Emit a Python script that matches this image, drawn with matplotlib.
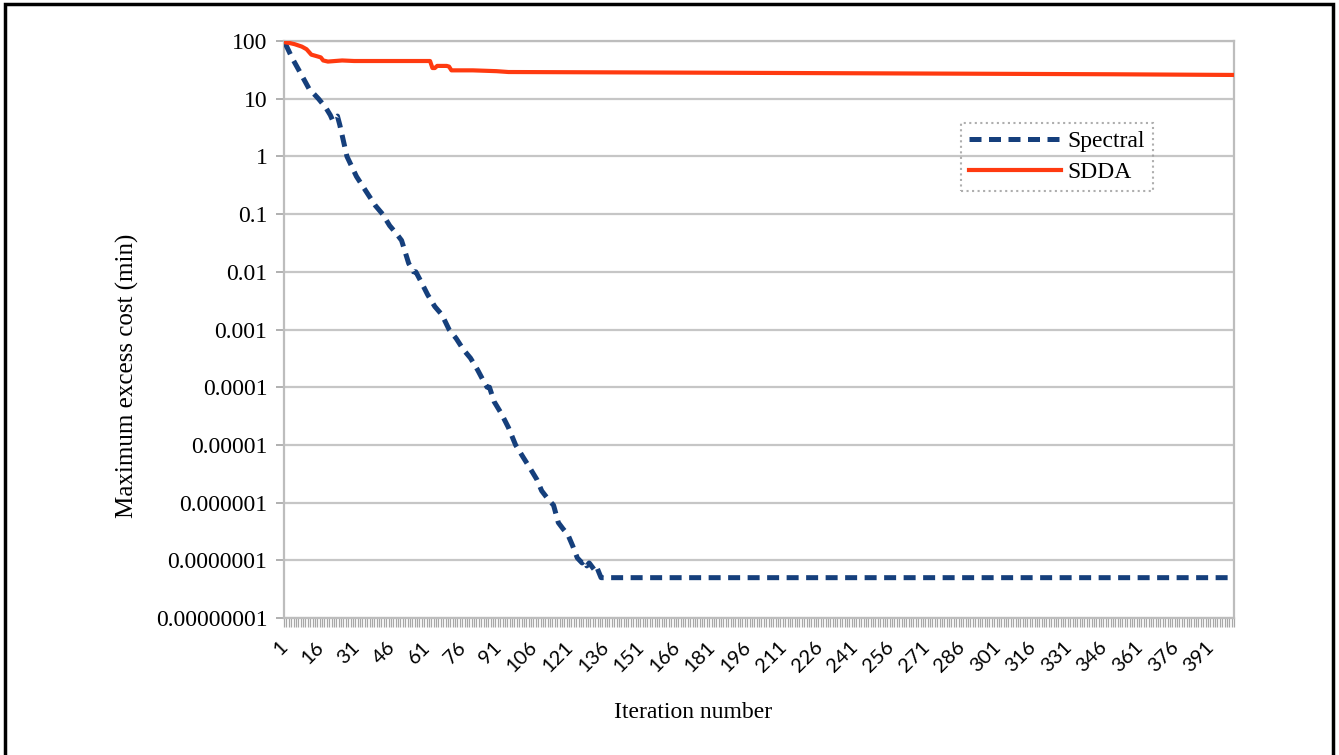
import matplotlib
matplotlib.use("Agg")
import matplotlib.pyplot as plt
from matplotlib.patches import Rectangle
from matplotlib.ticker import FixedLocator, NullFormatter

# ---- data ----
n_iter = 400
spectral_iter = [1, 4, 7, 11, 15, 18, 20, 21, 22, 23, 24, 27, 31, 35, 39, 42, 45, 48, 50, 53,
                 55, 56, 58, 61, 64, 67, 70, 73, 76, 79, 82, 84, 86, 87, 89, 92, 95, 98, 101,
                 104, 107, 109, 111, 113, 114, 116, 118, 120, 122, 124, 126, 127, 128, 129,
                 131, 132, 133, 134, 400]
spectral_val = [91, 50, 30, 15, 10, 7.1, 5.2, 4.2, 4.6, 5.0, 3.5, 1.0, 0.45, 0.25, 0.14, 0.1,
                0.063, 0.045, 0.035, 0.014, 0.01, 0.01, 0.007, 0.004, 0.0025, 0.0018, 0.001,
                7e-4, 4.5e-4, 3.2e-4, 2e-4, 1.4e-4, 1e-4, 1e-4, 5.6e-5, 3.5e-5, 2e-5, 1e-5,
                6.3e-6, 4e-6, 2.5e-6, 1.6e-6, 1.25e-6, 1e-6, 9e-7, 4.5e-7, 3.5e-7, 2.8e-7,
                1.8e-7, 1.1e-7, 9e-8, 1e-7, 8e-8, 9e-8, 7e-8, 8e-8, 6.3e-8, 5e-8, 5e-8]

sdda_iter = [1, 3, 5, 8, 10, 12, 14, 16, 17, 19, 22, 25, 30, 40, 50, 62, 63, 64, 65, 69, 70,
             71, 80, 90, 95, 150, 200, 250, 300, 350, 400]
sdda_val = [95, 92, 88, 80, 72, 58, 55, 52, 46, 44, 45, 46, 45, 45, 45, 45, 34, 34, 37, 37, 36,
            31, 31, 30, 29, 28.5, 28, 27.5, 27, 26.5, 25.8]

ytick_vals = [1e2, 1e1, 1e0, 1e-1, 1e-2, 1e-3, 1e-4, 1e-5, 1e-6, 1e-7, 1e-8]
ytick_labels = ["100", "10", "1", "0.1", "0.01", "0.001", "0.0001", "0.00001",
                "0.000001", "0.0000001", "0.00000001"]
xtick_vals = list(range(1, 392, 15))
xtick_labels = [str(v) for v in xtick_vals]

# ---- figure ----
fig = plt.figure(figsize=(13.39, 7.55), dpi=100)
ax = fig.add_axes([284 / 1339, 1 - 618 / 755, (1234 - 284) / 1339, (618 - 41) / 755])

grid_c = "#c6c6c6"
ax.set_yscale("log")
ax.set_ylim(1e-8, 100)
ax.set_xlim(0.5, n_iter + 0.5)

for v in ytick_vals:
    ax.axhline(v, color=grid_c, lw=1.6, zorder=1)

ax.plot(spectral_iter, spectral_val, color="#153f7c", lw=3.6,
        dashes=(2.4, 1.5), solid_capstyle="butt", zorder=3, label="Spectral")
ax.plot(sdda_iter, sdda_val, color="#ff3a10", lw=3.0, zorder=4, label="SDDA")

for s in ["left", "right", "bottom", "top"]:
    ax.spines[s].set_color("#bdbdbd")
    ax.spines[s].set_linewidth(1.6)

ax.yaxis.set_major_locator(FixedLocator(ytick_vals))
ax.yaxis.set_minor_locator(FixedLocator([]))
ax.set_yticklabels(ytick_labels, family="Liberation Serif", fontsize=17)
ax.tick_params(axis="y", which="major", direction="out", length=6, width=1.4,
               color="#b0b0b0", pad=6)

ax.xaxis.set_major_locator(FixedLocator(xtick_vals))
ax.xaxis.set_minor_locator(FixedLocator([i + 0.5 for i in range(0, n_iter + 1)]))
ax.xaxis.set_minor_formatter(NullFormatter())
ax.set_xticklabels(xtick_labels, family="Lato", fontsize=14.5, rotation=45,
                   ha="right", va="center", rotation_mode="anchor")
ax.tick_params(axis="x", which="major", length=0, pad=19)
ax.tick_params(axis="x", which="minor", direction="out", length=6.5, width=0.9,
               color="#a8a8a8")

fig.text(127 / 1339, 1 - 376 / 755, "Maximum excess cost (min)", family="Liberation Serif",
         fontsize=18, rotation=90, ha="center", va="center")
fig.text(693 / 1339, 1 - 713 / 755, "Iteration number", family="Liberation Serif",
         fontsize=17, ha="center", va="center")

leg = ax.legend(loc="upper left", bbox_to_anchor=(961 / 1339, 1 - 123 / 755),
                bbox_transform=fig.transFigure, borderaxespad=0,
                prop={"family": "Liberation Serif", "size": 17},
                handlelength=3.9, handletextpad=0.3, labelspacing=0.4,
                borderpad=0.32, fancybox=False)
fr = leg.get_frame()
fr.set_edgecolor("#9a9a9a")
fr.set_linestyle(":")
fr.set_linewidth(1.5)
fr.set_facecolor("none")

# outer black frame
fig.patches.append(Rectangle((5 / 1339, -0.05), (1333 - 5) / 1339, 1.05 - 4 / 755,
                             transform=fig.transFigure, fill=False,
                             edgecolor="black", lw=2.5))

fig.savefig("out.png", dpi=100)
